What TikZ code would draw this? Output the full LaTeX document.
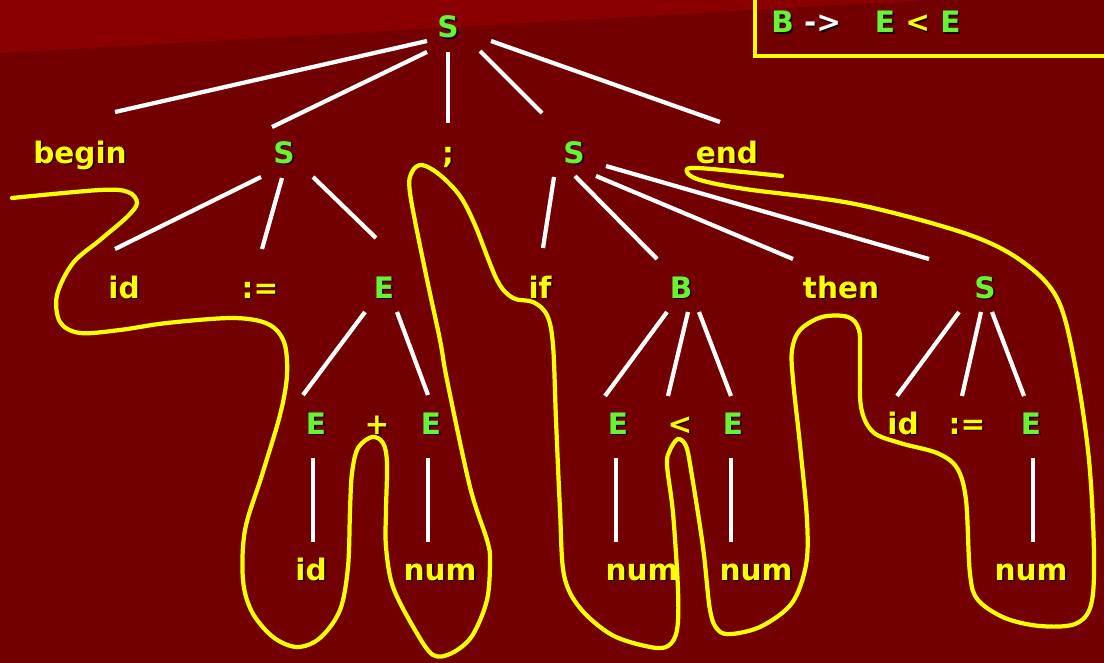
\documentclass[tikz,border=0pt]{standalone}
\usepackage{fontspec}
\setmainfont{DejaVu Sans}
\usepackage{tikz}
\usetikzlibrary{positioning}

\definecolor{bgdark}{RGB}{114,0,0}
\definecolor{bglight}{RGB}{138,0,0}
\definecolor{tgreen}{RGB}{102,245,51}
\definecolor{tyellow}{RGB}{255,255,0}
\definecolor{shadowc}{RGB}{30,0,0}

% text with a small drop shadow
\newcommand{\shd}[1]{\makebox[0pt][l]{\kern1.2pt\raisebox{-1.2pt}{\color{shadowc}#1}}#1}

\begin{document}
\begin{tikzpicture}[
    x=0.025cm, y=-0.025cm,
    sym/.style={
        anchor=base,
        inner sep=0pt,
        font=\fontsize{21}{24}\selectfont\bfseries
    },
    term/.style={sym, text=tyellow},
    nterm/.style={sym, text=tgreen},
    branch/.style={
        draw=white,
        line width=3pt
    },
    trail/.style={
        draw=tyellow,
        line width=3pt,
        line cap=round,
        line join=round
    }
]
\useasboundingbox (0,0) rectangle (1104,663);

% Background
\fill[bgdark] (0,0) rectangle (1104,663);
\fill[bglight] (0,0) -- (925,0) -- (0,53) -- cycle;

% Rule box
\draw[tyellow, line width=2.8pt] (755,-10) -- (755,56) -- (1120,56);
\node[sym, anchor=base west, text=tgreen] (rule) at (771,33)
    {\shd{B} {\color{white}\shd{->}}\hspace{24pt}\shd{E}~{\color{tyellow}\shd{<}}~\shd{E}};

% Root
\node[nterm] (top) at (448,38) {\shd{S}};

% Second level
\node[term] (tbegin) at (80,163) {\shd{begin}};
\node[nterm] (s1) at (284,163) {\shd{S}};
\node[term] (semi) at (448,163) {\shd{;}};
\node[nterm] (s2) at (574,163) {\shd{S}};
\node[term] (tend) at (727,163) {\shd{end}};

% Third level
\node[term] (id1) at (124,298) {\shd{id}};
\node[term] (asg1) at (260,298) {\shd{:=}};
\node[nterm] (e1) at (384,298) {\shd{E}};
\node[term] (tif) at (540,298) {\shd{if}};
\node[nterm] (b) at (681,298) {\shd{B}};
\node[term] (tthen) at (841,298) {\shd{then}};
\node[nterm] (s3) at (985,298) {\shd{S}};

% Fourth level
\node[nterm] (e2) at (316,434) {\shd{E}};
\node[term] (plus) at (377,434) {\shd{+}};
\node[nterm] (e3) at (431,434) {\shd{E}};
\node[nterm] (e4) at (618,434) {\shd{E}};
\node[term] (lt) at (680,434) {\shd{<}};
\node[nterm] (e5) at (733,434) {\shd{E}};
\node[term] (id2) at (903,434) {\shd{id}};
\node[term] (asg2) at (967,434) {\shd{:=}};
\node[nterm] (e6) at (1031,434) {\shd{E}};

% Leaves
\node[term] (id3) at (311,580) {\shd{id}};
\node[term] (num1) at (440,580) {\shd{num}};
\node[term] (num2) at (642,580) {\shd{num}};
\node[term] (num3) at (756,580) {\shd{num}};
\node[term] (num4) at (1031,580) {\shd{num}};

% Branches
\draw[branch] ([shift={(-21,3)}]top.base) -- ([shift={(35,-51)}]tbegin.base);
\draw[branch] ([shift={(-21,14)}]top.base) -- ([shift={(-12,-36)}]s1.base);
\draw[branch] ([shift={(0,14)}]top.base) -- ([shift={(0,-40)}]semi.base);
\draw[branch] ([shift={(32,13)}]top.base) -- ([shift={(-32,-50)}]s2.base);
\draw[branch] ([shift={(43,3)}]top.base) -- ([shift={(-7,-41)}]tend.base);

\draw[branch] ([shift={(-23,14)}]s1.base) -- ([shift={(-9,-49)}]id1.base);
\draw[branch] ([shift={(-2,15)}]s1.base) -- ([shift={(2,-49)}]asg1.base);
\draw[branch] ([shift={(29,14)}]s1.base) -- ([shift={(-8,-60)}]e1.base);

\draw[branch] ([shift={(-20,14)}]s2.base) -- ([shift={(3,-50)}]tif.base);
\draw[branch] ([shift={(1,13)}]s2.base) -- ([shift={(-24,-39)}]b.base);
\draw[branch] ([shift={(22,13)}]s2.base) -- ([shift={(-48,-39)}]tthen.base);
\draw[branch] ([shift={(32,3)}]s2.base) -- ([shift={(-56,-39)}]s3.base);

\draw[branch] ([shift={(-19,14)}]e1.base) -- ([shift={(-13,-39)}]e2.base);
\draw[branch] ([shift={(13,14)}]e1.base) -- ([shift={(-3,-39)}]e3.base);

\draw[branch] ([shift={(-14,14)}]b.base) -- ([shift={(-13,-38)}]e4.base);
\draw[branch] ([shift={(7,14)}]b.base) -- ([shift={(-12,-38)}]lt.base);
\draw[branch] ([shift={(18,14)}]b.base) -- ([shift={(-2,-38)}]e5.base);

\draw[branch] ([shift={(-26,14)}]s3.base) -- ([shift={(-6,-38)}]id2.base);
\draw[branch] ([shift={(-4,14)}]s3.base) -- ([shift={(-5,-38)}]asg2.base);
\draw[branch] ([shift={(7,14)}]s3.base) -- ([shift={(-7,-38)}]e6.base);

\draw[branch] ([shift={(-3,24)}]e2.base) -- ([shift={(2,-38)}]id3.base);
\draw[branch] ([shift={(-3,24)}]e3.base) -- ([shift={(-12,-38)}]num1.base);
\draw[branch] ([shift={(-2,24)}]e4.base) -- ([shift={(-26,-38)}]num2.base);
\draw[branch] ([shift={(-2,24)}]e5.base) -- ([shift={(-25,-38)}]num3.base);
\draw[branch] ([shift={(2,24)}]e6.base) -- ([shift={(2,-38)}]num4.base);

% Yield trail
\draw[trail] plot[smooth, tension=0.55] coordinates {
    (12,198) (100,190) (128,192) (137,203) (127,217) (100,240) (73,263)
    (57,295) (60,322) (80,333) (120,330) (167,323) (233,318) (268,324)
    (284,342) (287,375) (280,415) (262,475) (245,530) (243,580) (252,612)
    (273,637) (297,647) (320,638) (340,610) (348,567) (350,510) (352,473)
    (358,448) (372,437) (383,443) (387,463) (386,510) (386,547) (393,587)
    (415,630) (433,655) (452,653) (472,636) (487,600) (490,560) (487,540)
    (470,487) (447,380) (440,340) (425,270) (410,193) (412,172) (422,165)
    (440,175) (460,196) (475,225) (497,280) (513,298) (533,302) (547,315)
    (553,345) (556,420) (560,510) (564,575) (580,608) (612,635) (650,647)
    (668,646) (677,630) (678,590) (673,513) (667,465) (670,450) (678,439)
    (686,446) (691,470) (703,547) (710,610) (718,630) (732,634) (762,626)
    (792,603) (806,565) (807,520) (800,445) (793,380) (792,350) (800,330)
    (822,317) (848,317) (859,330) (860,360) (861,407) (873,432) (900,443)
    (937,453) (957,468) (966,500) (970,574) (978,600) (1005,618) (1040,626)
    (1075,624) (1091,605) (1094,554) (1089,460) (1076,370) (1058,300)
    (1023,262) (967,234) (855,204) (745,189) (700,180) (687,172) (698,168)
    (782,176)
};

\end{tikzpicture}
\end{document}
